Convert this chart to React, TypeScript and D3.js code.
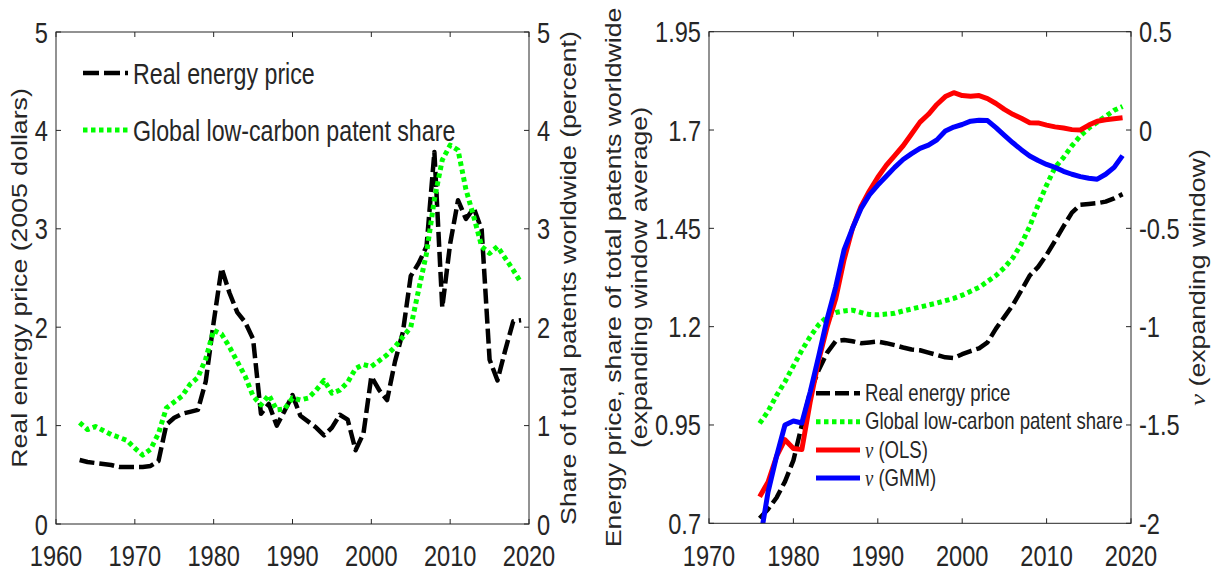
import React from 'react';
import * as d3 from 'd3';

// ---------- data ----------
// Left panel: annual series, 1963-2019
const annualStart = 1963;
const realEnergyPrice = [
  0.65, 0.63, 0.62, 0.61, 0.60, 0.58, 0.58, 0.58, 0.58, 0.59,
  0.64, 1.01, 1.08, 1.12, 1.14, 1.16, 1.45, 2.05, 2.60, 2.35,
  2.15, 2.05, 1.88, 1.12, 1.22, 1.00, 1.15, 1.31, 1.10, 1.04,
  0.98, 0.90, 0.98, 1.11, 1.06, 0.75, 0.92, 1.50, 1.36, 1.26,
  1.65, 1.95, 2.52, 2.65, 2.82, 3.78, 2.20, 2.85, 3.29, 3.10,
  3.21, 2.99, 1.67, 1.46, 1.77, 2.06, 2.07,
];
const lowCarbonShare = [
  1.03, 0.96, 0.99, 0.95, 0.91, 0.88, 0.85, 0.77, 0.70, 0.76,
  0.92, 1.18, 1.24, 1.30, 1.42, 1.49, 1.68, 1.97, 1.93, 1.80,
  1.65, 1.50, 1.30, 1.21, 1.31, 1.16, 1.17, 1.28, 1.26, 1.28,
  1.36, 1.46, 1.33, 1.36, 1.44, 1.58, 1.62, 1.60, 1.66, 1.72,
  1.80, 1.90, 2.00, 2.38, 2.75, 3.30, 3.70, 3.85, 3.80, 3.40,
  3.12, 2.82, 2.75, 2.82, 2.70, 2.58, 2.45,
];

// Right panel: expanding-window series, 1976-2019
const windowStart = 1976;
const avgEnergyPrice = [
  0.713, 0.736, 0.765, 0.806, 0.860, 0.950, 1.035, 1.090, 1.134, 1.163,
  1.166, 1.163, 1.158, 1.160, 1.162, 1.158, 1.153, 1.147, 1.142, 1.140,
  1.134, 1.128, 1.122, 1.120, 1.130, 1.138, 1.145, 1.160, 1.195, 1.225,
  1.255, 1.292, 1.330, 1.352, 1.383, 1.418, 1.455, 1.490, 1.510, 1.512,
  1.514, 1.518, 1.526, 1.537,
];
const avgLowCarbonShare = [
  0.954, 0.985, 1.025, 1.060, 1.100, 1.140, 1.175, 1.205, 1.225, 1.236,
  1.240, 1.242, 1.236, 1.231, 1.230, 1.232, 1.234, 1.240, 1.245, 1.250,
  1.255, 1.260, 1.266, 1.272, 1.280, 1.290, 1.300, 1.315, 1.330, 1.350,
  1.375, 1.410, 1.455, 1.510, 1.560, 1.605, 1.630, 1.660, 1.685, 1.705,
  1.720, 1.735, 1.750, 1.760,
];
const nuOLS = [
  -1.865, -1.790, -1.660, -1.575, -1.620, -1.625, -1.380, -1.170, -1.000, -0.860,
  -0.660, -0.500, -0.390, -0.310, -0.240, -0.180, -0.130, -0.080, -0.020, 0.040,
  0.080, 0.130, 0.170, 0.190, 0.175, 0.172, 0.175, 0.160, 0.135, 0.105,
  0.080, 0.060, 0.037, 0.036, 0.025, 0.016, 0.010, 0.002, 0.000, 0.025,
  0.045, 0.052, 0.057, 0.062,
];
const nuGMM = [
  -2.100, -1.840, -1.660, -1.500, -1.480, -1.490, -1.330, -1.150, -0.960, -0.800,
  -0.610, -0.500, -0.400, -0.330, -0.280, -0.235, -0.190, -0.150, -0.120, -0.093,
  -0.077, -0.050, -0.005, 0.015, 0.028, 0.045, 0.050, 0.048, 0.012, -0.027,
  -0.065, -0.100, -0.132, -0.155, -0.175, -0.190, -0.210, -0.225, -0.237, -0.245,
  -0.250, -0.225, -0.190, -0.130,
];

// Axis ticks
const leftXTicks = [1960, 1970, 1980, 1990, 2000, 2010, 2020];
const leftYTicks = [0, 1, 2, 3, 4, 5];
const rightXTicks = [1970, 1980, 1990, 2000, 2010, 2020];
const rightYLeftTicks = [0.7, 0.95, 1.2, 1.45, 1.7, 1.95];
const rightYRightTicks = [-2, -1.5, -1, -0.5, 0, 0.5];

// ---------- styling ----------
const SX = 0.8; // horizontal condensation of all text
const FONT = 'Liberation Sans, Arial, sans-serif';
const INK = '#262626';
const GREEN = '#00ff00';
const DASH = '15,5';
const DOT = '4.5,3.5';

type TxtProps = {
  x: number; y: number; size: number; anchor?: 'start' | 'middle' | 'end';
  rotate?: boolean; children: React.ReactNode;
};
function Txt({ x, y, size, anchor = 'start', rotate = false, children }: TxtProps) {
  return (
    <text
      transform={`translate(${x},${y}) scale(${SX},1)${rotate ? ' rotate(-90)' : ''}`}
      fontSize={size}
      fontFamily={FONT}
      textAnchor={anchor}
      fill={INK}
    >
      {children}
    </text>
  );
}

const Nu = () => (
  <tspan fontFamily="Liberation Serif, Times New Roman, serif" fontStyle="italic">ν</tspan>
);

type Scale = d3.ScaleLinear<number, number>;

function Frame({ x, yl, yr, xTicks, ylTicks, yrTicks, fmtL, fmtR }: {
  x: Scale; yl: Scale; yr: Scale; xTicks: number[]; ylTicks: number[]; yrTicks: number[];
  fmtL: (v: number) => string; fmtR: (v: number) => string;
}) {
  const [x0, x1] = x.range();
  const [y0, y1] = yl.range();
  const tl = 5;
  return (
    <g>
      <rect x={x0} y={y1} width={x1 - x0} height={y0 - y1} fill="none" stroke={INK} strokeWidth={1} />
      {xTicks.map((t) => (
        <g key={'x' + t}>
          <line x1={x(t)} x2={x(t)} y1={y0} y2={y0 - tl} stroke={INK} />
          <line x1={x(t)} x2={x(t)} y1={y1} y2={y1 + tl} stroke={INK} />
          <Txt x={x(t)} y={566} size={29.5} anchor="middle">{String(t)}</Txt>
        </g>
      ))}
      {ylTicks.map((t) => (
        <g key={'yl' + t}>
          <line x1={x0} x2={x0 + tl} y1={yl(t)} y2={yl(t)} stroke={INK} />
          <Txt x={x0 - 8} y={yl(t) + 10.5} size={29.5} anchor="end">{fmtL(t)}</Txt>
        </g>
      ))}
      {yrTicks.map((t) => (
        <g key={'yr' + t}>
          <line x1={x1} x2={x1 - tl} y1={yr(t)} y2={yr(t)} stroke={INK} />
          <Txt x={x1 + 8} y={yr(t) + 10.5} size={29.5} anchor="start">{fmtR(t)}</Txt>
        </g>
      ))}
    </g>
  );
}

function series(values: number[], start: number, x: Scale, y: Scale) {
  return d3.line<number>()
    .x((_, i) => x(start + i))
    .y((d) => y(d))(values) || '';
}

export default function App() {
  // Left panel scales
  const xL = d3.scaleLinear().domain([1960, 2020]).range([56, 529]);
  const yL = d3.scaleLinear().domain([0, 5]).range([524, 32]);
  // Right panel scales
  const xR = d3.scaleLinear().domain([1970, 2020]).range([709, 1131]);
  const yRL = d3.scaleLinear().domain([0.7, 1.95]).range([523.3, 31.7]);
  const yRR = d3.scaleLinear().domain([-2, 0.5]).range([523.3, 31.7]);

  const fmt = (v: number) => String(v);
  const midL = (yL.range()[0] + yL.range()[1]) / 2;
  const midR = (yRL.range()[0] + yRL.range()[1]) / 2;

  return (
    <svg
      width={1214}
      height={573}
      style={{ position: 'absolute', left: 0, top: 0, background: '#fff' }}
    >
      <defs>
        <clipPath id="clipL">
          <rect x={56} y={32} width={529 - 56} height={524 - 32} />
        </clipPath>
        <clipPath id="clipR">
          <rect x={709} y={31.7} width={1131 - 709} height={523.3 - 31.7} />
        </clipPath>
      </defs>

      {/* ---- left panel ---- */}
      <g clipPath="url(#clipL)" fill="none" strokeLinejoin="round">
        <path d={series(realEnergyPrice, annualStart, xL, yL)} stroke="#000" strokeWidth={4.5} strokeDasharray={DASH} />
        <path d={series(lowCarbonShare, annualStart, xL, yL)} stroke={GREEN} strokeWidth={5} strokeDasharray={DOT} />
      </g>
      <Frame x={xL} yl={yL} yr={yL} xTicks={leftXTicks} ylTicks={leftYTicks} yrTicks={leftYTicks} fmtL={fmt} fmtR={fmt} />
      <Txt x={27} y={midL} size={26.7} anchor="middle" rotate>Real energy price (2005 dollars)</Txt>
      <Txt x={576} y={midL} size={26.7} anchor="middle" rotate>Share of total patents worldwide  (percent)</Txt>

      {/* left legend */}
      <g fill="none">
        <line x1={83} x2={128} y1={73} y2={73} stroke="#000" strokeWidth={4.5} strokeDasharray="16,5" />
        <line x1={83} x2={128} y1={130} y2={130} stroke={GREEN} strokeWidth={5} strokeDasharray={DOT} />
      </g>
      <Txt x={133} y={83.5} size={29}>Real energy price</Txt>
      <Txt x={133} y={140.5} size={29}>Global low-carbon patent share</Txt>

      {/* ---- right panel ---- */}
      <g clipPath="url(#clipR)" fill="none" strokeLinejoin="round">
        <path d={series(avgLowCarbonShare, windowStart, xR, yRL)} stroke={GREEN} strokeWidth={5} strokeDasharray={DOT} />
        <path d={series(avgEnergyPrice, windowStart, xR, yRL)} stroke="#000" strokeWidth={4.5} strokeDasharray={DASH} />
        <path d={series(nuOLS, windowStart, xR, yRR)} stroke="#ff0000" strokeWidth={5} />
        <path d={series(nuGMM, windowStart, xR, yRR)} stroke="#0000ff" strokeWidth={5} />
      </g>
      <Frame x={xR} yl={yRL} yr={yRR} xTicks={rightXTicks} ylTicks={rightYLeftTicks} yrTicks={rightYRightTicks} fmtL={fmt} fmtR={fmt} />
      <Txt x={621} y={midR} size={26.7} anchor="middle" rotate>Energy price, share of total patents worldwide</Txt>
      <Txt x={647} y={midR} size={26.7} anchor="middle" rotate>(expanding window average)</Txt>
      <Txt x={1205} y={midR} size={26.7} anchor="middle" rotate><Nu /> (expanding window)</Txt>

      {/* right legend */}
      <g fill="none">
        <line x1={816} x2={860} y1={393.3} y2={393.3} stroke="#000" strokeWidth={4.5} strokeDasharray="14,5" />
        <line x1={816} x2={860} y1={421.7} y2={421.7} stroke={GREEN} strokeWidth={5} strokeDasharray={DOT} />
        <line x1={816} x2={860} y1={450} y2={450} stroke="#ff0000" strokeWidth={5} />
        <line x1={816} x2={860} y1={478} y2={478} stroke="#0000ff" strokeWidth={5} />
      </g>
      <Txt x={865} y={401} size={23.2}>Real energy price</Txt>
      <Txt x={865} y={429.4} size={23.2}>Global low-carbon patent share</Txt>
      <Txt x={865} y={457.7} size={23.2}><Nu /> (OLS)</Txt>
      <Txt x={865} y={485.7} size={23.2}><Nu /> (GMM)</Txt>
    </svg>
  );
}
